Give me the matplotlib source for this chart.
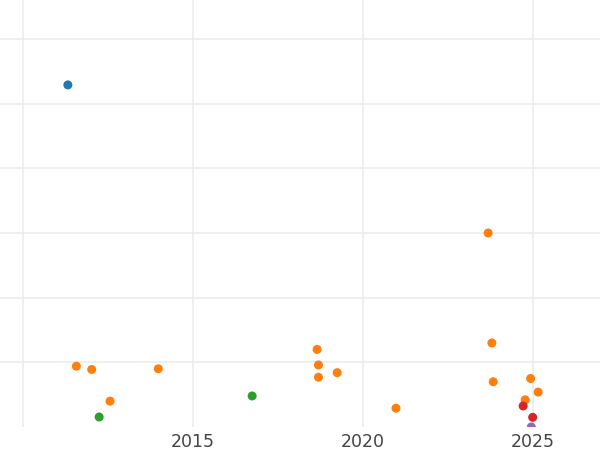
import matplotlib
matplotlib.use("Agg")
import matplotlib.pyplot as plt

# Data (x = year, y = value in arbitrary units)
blue_x = [2011.32]
blue_y = [529]

orange_x = [2011.57, 2012.02, 2013.98, 2012.56, 2018.65, 2018.69, 2018.69, 2019.24,
            2020.97, 2023.68, 2023.79, 2023.83, 2024.93, 2025.15, 2024.77]
orange_y = [94, 89, 90, 40, 120, 96, 77, 84, 29, 300, 130, 70, 75, 54, 42]

green_x = [2012.24, 2016.74]
green_y = [15.5, 48]

red_x = [2024.71, 2024.99]
red_y = [32.5, 15]

purple_x = [2024.95]
purple_y = [0]

xticks = [2010, 2015, 2020, 2025]
xticklabels = ["", "2015", "2020", "2025"]
yticks = [100, 200, 300, 400, 500, 600]

fig = plt.figure(figsize=(6, 4.5), dpi=100)
ax = fig.add_axes([0, 23 / 450, 1, 427 / 450])

series = [
    (blue_x, blue_y, "#1f77b4"),
    (orange_x, orange_y, "#ff7f0e"),
    (green_x, green_y, "#2ca02c"),
    (red_x, red_y, "#d62728"),
    (purple_x, purple_y, "#9467bd"),
]
for xs, ys, c in series:
    ax.scatter(xs, ys, s=42, color=c, edgecolors="none", zorder=3)

ax.set_xlim(2009.324, 2026.97)
ax.set_ylim(0, 660.3)
ax.set_xticks(xticks)
ax.set_xticklabels(xticklabels)
ax.set_yticks(yticks)
ax.set_yticklabels([])
ax.tick_params(axis="both", length=0)
ax.tick_params(axis="x", labelsize=12.5, labelcolor="#444444", pad=4)
ax.grid(True, color="#ebebeb", linewidth=1.1)
ax.set_axisbelow(True)
for sp in ax.spines.values():
    sp.set_visible(False)

fig.savefig("out.png", dpi=100)
